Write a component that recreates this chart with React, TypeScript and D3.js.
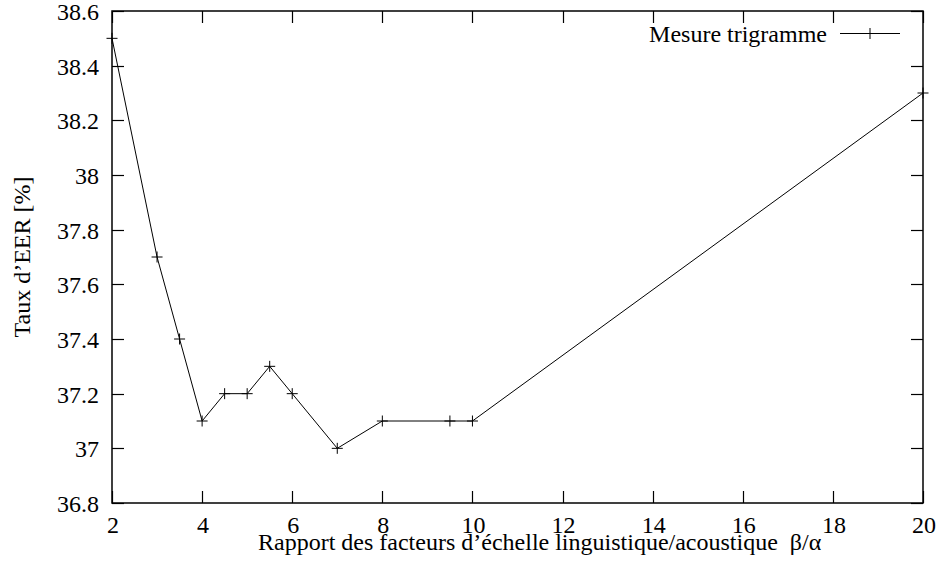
import {useEffect, useRef} from 'react';
import * as d3 from 'd3';

const ratios = [2, 3, 3.5, 4, 4.5, 5, 5.5, 6, 7, 8, 9.5, 10, 20];
const eerRates = [38.5, 37.7, 37.4, 37.1, 37.2, 37.2, 37.3, 37.2, 37.0, 37.1, 37.1, 37.1, 38.3];
const xTicks = [2, 4, 6, 8, 10, 12, 14, 16, 18, 20];
const yTicks = [36.8, 37, 37.2, 37.4, 37.6, 37.8, 38, 38.2, 38.4, 38.6];
const seriesName = 'Mesure trigramme';
const xTitle = 'Rapport des facteurs d\u2019échelle linguistique/acoustique  β/α';
const yTitle = 'Taux d\u2019EER [%]';

export default function App() {
  const svgRef = useRef<SVGSVGElement>(null);

  useEffect(() => {
    if (!svgRef.current) return;
    const width = 942;
    const height = 572;
    const margin = {top: 11, right: 19, bottom: 69, left: 112};
    const font = '"Liberation Serif", "DejaVu Serif", serif';

    const svg = d3.select(svgRef.current);
    svg.selectAll('*').remove();
    svg.attr('width', width).attr('height', height);
    svg.append('rect').attr('width', width).attr('height', height).attr('fill', '#fff');

    const x = d3.scaleLinear().domain([2, 20]).range([margin.left, width - margin.right]);
    const y = d3.scaleLinear().domain([36.8, 38.6]).range([height - margin.bottom, margin.top]);
    const tickLen = 12;
    const fmt = (v: number) => String(+v.toFixed(1));

    const axes = svg.append('g').attr('stroke', '#000').attr('stroke-width', 1.2);

    // ticks, mirrored on all four sides like gnuplot
    yTicks.forEach((v) => {
      const yy = Math.round(y(v)) + 0.5;
      axes.append('line').attr('x1', x(2)).attr('x2', x(2) + tickLen).attr('y1', yy).attr('y2', yy);
      axes.append('line').attr('x1', x(20)).attr('x2', x(20) - tickLen).attr('y1', yy).attr('y2', yy);
    });
    xTicks.forEach((v) => {
      const xx = Math.round(x(v)) + 0.5;
      axes.append('line').attr('x1', xx).attr('x2', xx).attr('y1', y(36.8)).attr('y2', y(36.8) - tickLen);
      axes.append('line').attr('x1', xx).attr('x2', xx).attr('y1', y(38.6)).attr('y2', y(38.6) + tickLen);
    });

    axes
      .append('rect')
      .attr('x', x(2))
      .attr('y', y(38.6))
      .attr('width', x(20) - x(2))
      .attr('height', y(36.8) - y(38.6))
      .attr('fill', 'none')
      .attr('stroke-width', 1.5);

    const labels = svg.append('g').attr('font-family', font).attr('font-size', 24).attr('fill', '#000');

    labels
      .selectAll('.ylab')
      .data(yTicks)
      .join('text')
      .attr('x', x(2) - 13)
      .attr('y', (d) => y(d) + 9)
      .attr('text-anchor', 'end')
      .text(fmt);

    labels
      .selectAll('.xlab')
      .data(xTicks)
      .join('text')
      .attr('x', (d) => x(d) + 1)
      .attr('y', y(36.8) + 30)
      .attr('text-anchor', 'middle')
      .text(fmt);

    labels
      .append('text')
      .attr('x', 258)
      .attr('y', 550)
      .attr('text-anchor', 'start')
      .style('white-space', 'pre')
      .text(xTitle);

    labels
      .append('text')
      .attr('transform', `translate(30,${(y(36.8) + y(38.6)) / 2}) rotate(-90)`)
      .attr('text-anchor', 'middle')
      .text(yTitle);

    const points = ratios.map((r, i) => [r, eerRates[i]] as [number, number]);
    const line = d3
      .line<[number, number]>()
      .x((d) => x(d[0]))
      .y((d) => y(d[1]));

    svg
      .append('path')
      .datum(points)
      .attr('d', line)
      .attr('fill', 'none')
      .attr('stroke', '#000')
      .attr('stroke-width', 1);

    const cross = (g: d3.Selection<SVGGElement, unknown, null, undefined>, cx: number, cy: number) => {
      const s = 5.5;
      g.append('line').attr('x1', cx - s).attr('x2', cx + s).attr('y1', cy).attr('y2', cy);
      g.append('line').attr('x1', cx).attr('x2', cx).attr('y1', cy - s).attr('y2', cy + s);
    };

    const marks = svg.append('g').attr('stroke', '#000').attr('stroke-width', 1);
    points.forEach((p) => cross(marks, x(p[0]), y(p[1])));

    // legend
    const legend = svg.append('g');
    legend
      .append('text')
      .attr('x', 827)
      .attr('y', 42)
      .attr('text-anchor', 'end')
      .attr('font-family', font)
      .attr('font-size', 24)
      .text(seriesName);
    const lg = legend.append('g').attr('stroke', '#000').attr('stroke-width', 1);
    lg.append('line').attr('x1', 840).attr('x2', 900).attr('y1', 33.5).attr('y2', 33.5);
    cross(lg, 870, 33.5);
  }, []);

  return <svg ref={svgRef} style={{position: 'absolute', left: 0, top: 0, display: 'block'}} />;
}
